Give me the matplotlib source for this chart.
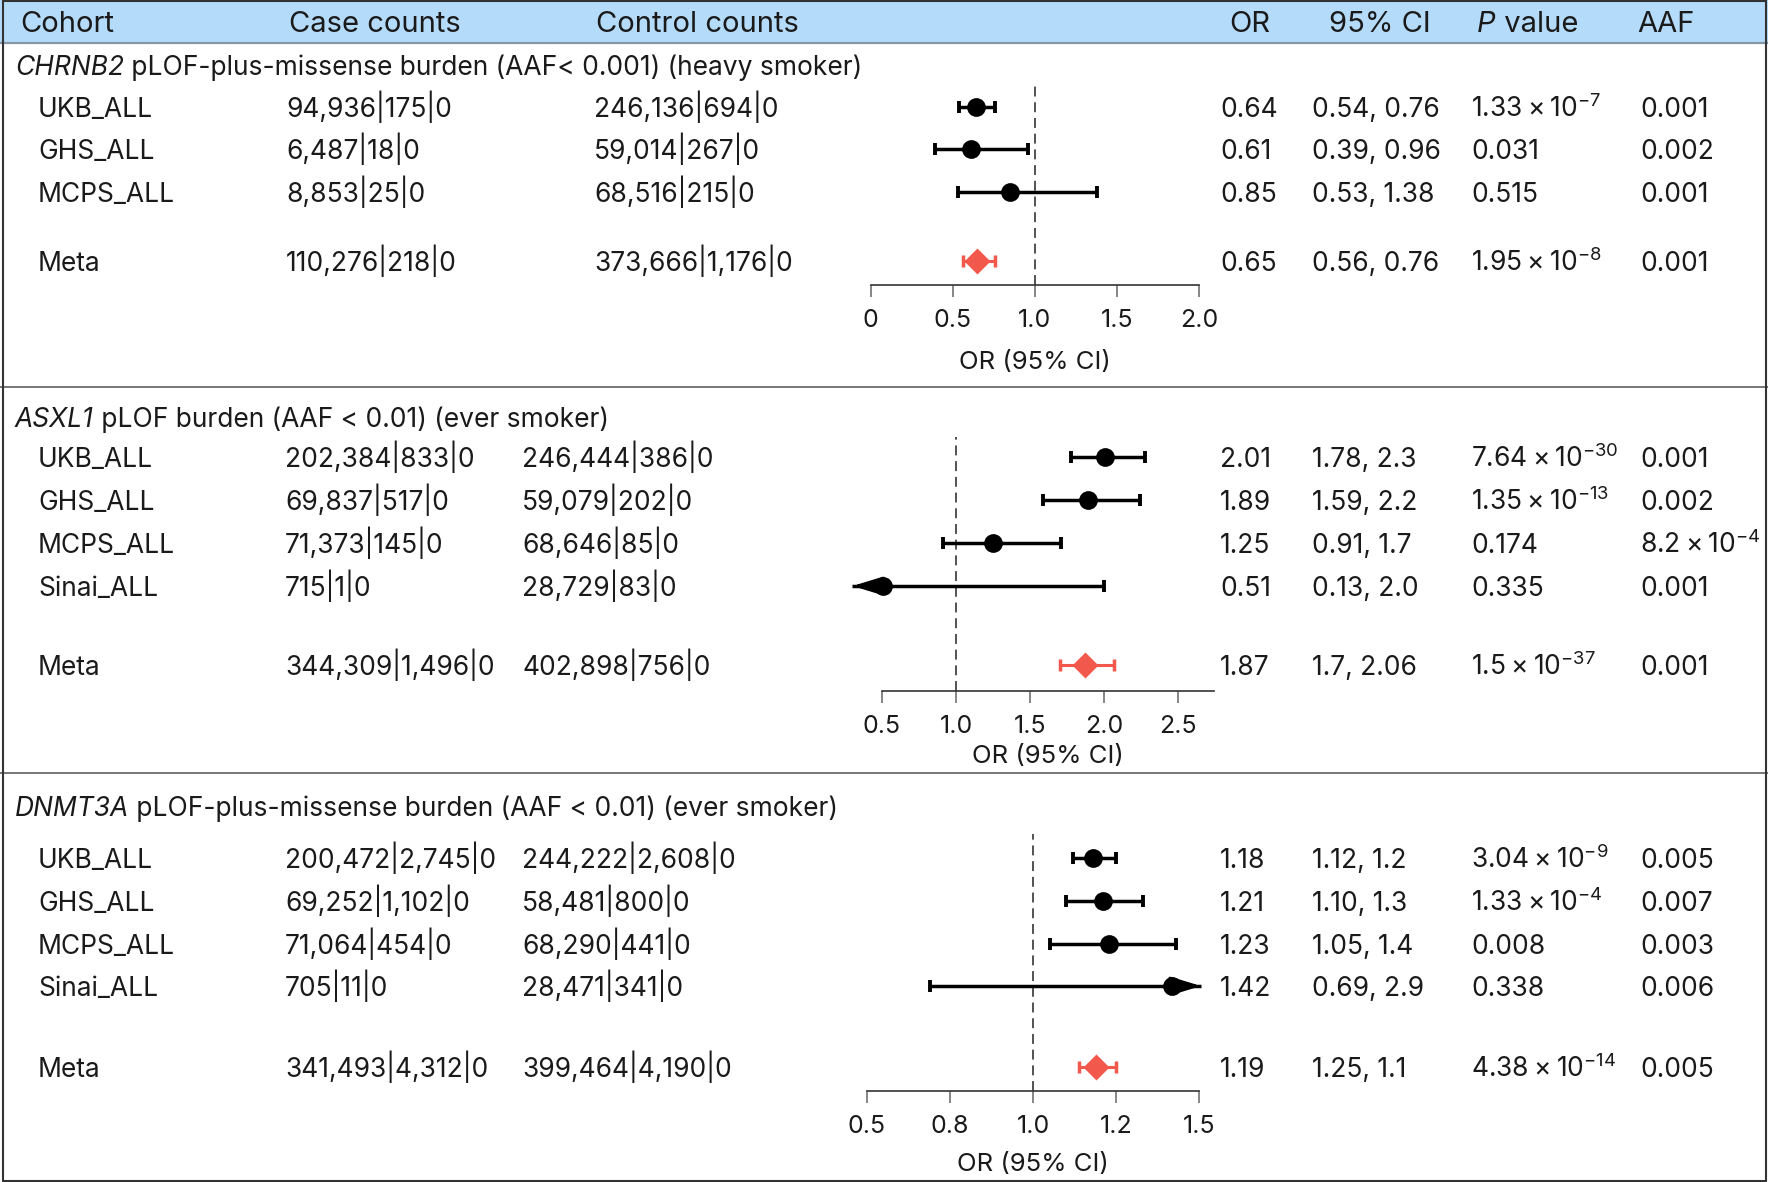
import matplotlib
matplotlib.use('Agg')
import matplotlib.pyplot as plt
from matplotlib.patches import Rectangle
from matplotlib.transforms import blended_transform_factory

plt.rcParams['font.family'] = ['Inter', 'DejaVu Sans']
plt.rcParams['mathtext.fontset'] = 'custom'
plt.rcParams['mathtext.rm'] = 'Inter'

W, H = 1768, 1182
FS = 19
FS_HEAD = 21
FS_TICK = 18
FS_XL = 18.5
TXT = '#1a1a1a'
RED = '#f2584c'

# ---- data ----
header = ['Cohort', 'Case counts', 'Control counts', 'OR', '95% CI', 'P', 'AAF']

genes = ['CHRNB2', 'ASXL1', 'DNMT3A']
title_rest = [' pLOF-plus-missense burden (AAF< 0.001) (heavy smoker)',
              ' pLOF burden (AAF < 0.01) (ever smoker)',
              ' pLOF-plus-missense burden (AAF < 0.01) (ever smoker)']

cohorts1 = ['UKB_ALL', 'GHS_ALL', 'MCPS_ALL', 'Meta']
cases1 = ['94,936|175|0', '6,487|18|0', '8,853|25|0', '110,276|218|0']
controls1 = ['246,136|694|0', '59,014|267|0', '68,516|215|0', '373,666|1,176|0']
or1 = [0.64, 0.61, 0.85, 0.65]
lo1 = [0.54, 0.39, 0.53, 0.56]
hi1 = [0.76, 0.96, 1.38, 0.76]
ci1 = ['0.54, 0.76', '0.39, 0.96', '0.53, 1.38', '0.56, 0.76']
p1 = [r'$\mathregular{1.33\times10^{-7}}$', '0.031', '0.515', r'$\mathregular{1.95\times10^{-8}}$']
aaf1 = ['0.001', '0.002', '0.001', '0.001']

cohorts2 = ['UKB_ALL', 'GHS_ALL', 'MCPS_ALL', 'Sinai_ALL', 'Meta']
cases2 = ['202,384|833|0', '69,837|517|0', '71,373|145|0', '715|1|0', '344,309|1,496|0']
controls2 = ['246,444|386|0', '59,079|202|0', '68,646|85|0', '28,729|83|0', '402,898|756|0']
or2 = [2.01, 1.89, 1.25, 0.51, 1.87]
lo2 = [1.78, 1.59, 0.91, 0.13, 1.70]
hi2 = [2.28, 2.24, 1.71, 2.00, 2.07]
ci2 = ['1.78, 2.3', '1.59, 2.2', '0.91, 1.7', '0.13, 2.0', '1.7, 2.06']
p2 = [r'$\mathregular{7.64\times10^{-30}}$', r'$\mathregular{1.35\times10^{-13}}$', '0.174', '0.335',
      r'$\mathregular{1.5\times10^{-37}}$']
aaf2 = ['0.001', '0.002', r'$\mathregular{8.2\times10^{-4}}$', '0.001', '0.001']

cohorts3 = ['UKB_ALL', 'GHS_ALL', 'MCPS_ALL', 'Sinai_ALL', 'Meta']
cases3 = ['200,472|2,745|0', '69,252|1,102|0', '71,064|454|0', '705|11|0', '341,493|4,312|0']
controls3 = ['244,222|2,608|0', '58,481|800|0', '68,290|441|0', '28,471|341|0', '399,464|4,190|0']
or3 = [1.18, 1.21, 1.23, 1.42, 1.19]
lo3 = [1.12, 1.10, 1.05, 0.69, 1.14]
hi3 = [1.25, 1.33, 1.43, 2.90, 1.25]
ci3 = ['1.12, 1.2', '1.10, 1.3', '1.05, 1.4', '0.69, 2.9', '1.25, 1.1']
p3 = [r'$\mathregular{3.04\times10^{-9}}$', r'$\mathregular{1.33\times10^{-4}}$', '0.008', '0.338',
      r'$\mathregular{4.38\times10^{-14}}$']
aaf3 = ['0.005', '0.007', '0.003', '0.006', '0.005']

ticks1, ticklabels1 = [0, 0.5, 1.0, 1.5, 2.0], ['0', '0.5', '1.0', '1.5', '2.0']
ticks2, ticklabels2 = [0.5, 1.0, 1.5, 2.0, 2.5], ['0.5', '1.0', '1.5', '2.0', '2.5']
ticks3, ticklabels3 = [0.5, 0.75, 1.0, 1.25, 1.5], ['0.5', '0.8', '1.0', '1.2', '1.5']

# ---- layout (pixels, y downward) ----
panels = [
    dict(cohorts=cohorts1, cases=cases1, controls=controls1, orv=or1, lo=lo1, hi=hi1,
         ci=ci1, p=p1, aaf=aaf1, ticks=ticks1, tlabels=ticklabels1,
         title_y=65, rows=[107, 149, 192, 261], dash_top=82, axis_y=285,
         ref=(0.0, 870.8), ppu=164, view=(0.0, 2.0), spine=(0.0, 2.0), xlabel_y=362,
         case_x=286, ctrl_x=594),
    dict(cohorts=cohorts2, cases=cases2, controls=controls2, orv=or2, lo=lo2, hi=hi2,
         ci=ci2, p=p2, aaf=aaf2, ticks=ticks2, tlabels=ticklabels2,
         title_y=417, rows=[457, 500, 543, 586, 665], dash_top=437, axis_y=691,
         ref=(0.5, 882), ppu=148, view=(0.30, 2.75), spine=(0.5, 2.74), xlabel_y=757,
         case_x=285, ctrl_x=522),
    dict(cohorts=cohorts3, cases=cases3, controls=controls3, orv=or3, lo=lo3, hi=hi3,
         ci=ci3, p=p3, aaf=aaf3, ticks=ticks3, tlabels=ticklabels3,
         title_y=806, rows=[858, 901, 944, 986, 1067], dash_top=834, axis_y=1091,
         ref=(0.5, 867), ppu=332, view=(0.5, 1.506), spine=(0.5, 1.5), xlabel_y=1164,
         case_x=285, ctrl_x=522),
]
col_x = [20, 289, 596, 1229, 1329, 1477, 1637]
val_x = dict(cohort=38, orv=1220, ci=1312, p=1471, aaf=1640)
BL = 10  # baseline offset from visual row centre

fig = plt.figure(figsize=(W / 100, H / 100), dpi=100)
cv = fig.add_axes([0, 0, 1, 1])
cv.set_xlim(0, W)
cv.set_ylim(H, 0)
cv.axis('off')


def italic_then(x, y, ital, rest, size):
    t = cv.text(x, y, ital, fontsize=size, color=TXT, style='italic', va='baseline')
    cv.annotate(rest, xy=(1, 0), xycoords=t, fontsize=size, color=TXT, ha='left', va='bottom')


# header band and frame
cv.add_patch(Rectangle((0, 0), W, 43, facecolor='#b5dbfa', edgecolor='none', zorder=0))
cv.plot([0, W], [43, 43], color='#8796a3', lw=1.6)
for yy in [387, 773]:
    cv.plot([0, W], [yy, yy], color='#777777', lw=1.4)
cv.add_patch(Rectangle((2.5, 1), W - 5, H - 2, facecolor='none', edgecolor='#333333', lw=1.5, zorder=5))

for x, lab in zip(col_x, header):
    if lab == 'P':
        italic_then(x, 32, 'P', ' value', FS_HEAD)
    else:
        cv.text(x, 32, lab, fontsize=FS_HEAD, color=TXT, ha='left', va='baseline')

for k, pn in enumerate(panels):
    italic_then(15, pn['title_y'] + BL, genes[k], title_rest[k], FS)
    for i, y in enumerate(pn['rows']):
        yb = y + BL
        cv.text(val_x['cohort'], yb, pn['cohorts'][i], fontsize=FS, color=TXT, va='baseline')
        cv.text(pn['case_x'], yb, pn['cases'][i], fontsize=FS, color=TXT, va='baseline')
        cv.text(pn['ctrl_x'], yb, pn['controls'][i], fontsize=FS, color=TXT, va='baseline')
        cv.text(val_x['orv'], yb, f"{pn['orv'][i]:.2f}", fontsize=FS, color=TXT, va='baseline')
        cv.text(val_x['ci'], yb, pn['ci'][i], fontsize=FS, color=TXT, va='baseline')
        cv.text(val_x['p'], yb, pn['p'][i], fontsize=FS, color=TXT, va='baseline')
        cv.text(val_x['aaf'], yb, pn['aaf'][i], fontsize=FS, color=TXT, va='baseline')

    # forest axes placed so that one OR unit spans ppu pixels
    v0, v1 = pn['view']
    r_val, r_px = pn['ref']
    left_px = r_px + (v0 - r_val) * pn['ppu']
    width_px = (v1 - v0) * pn['ppu']
    ax = fig.add_axes([left_px / W, 1 - pn['axis_y'] / H, width_px / W,
                       (pn['axis_y'] - pn['dash_top']) / H])
    ax.set_facecolor('none')
    ax.set_xlim(v0, v1)
    ax.set_ylim(pn['axis_y'], pn['dash_top'])
    for s in ['top', 'left', 'right']:
        ax.spines[s].set_visible(False)
    ax.spines['bottom'].set_bounds(*pn['spine'])
    ax.spines['bottom'].set_color('#333333')
    ax.spines['bottom'].set_linewidth(1.2)
    ax.set_yticks([])
    ax.set_xticks(pn['ticks'])
    ax.set_xticklabels(pn['tlabels'])
    ax.tick_params(axis='x', length=8.5, width=1.1, color='#666666', pad=9,
                   labelsize=FS_TICK, labelcolor=TXT)
    ax.axvline(1.0, color='#444444', lw=1.3, ls=(0, (5.5, 3.2)), zorder=1)
    ax.set_xlabel('OR (95% CI)', fontsize=FS_XL, color=TXT)
    ax.xaxis.set_label_coords(sum(pn['spine']) / 2, pn['xlabel_y'],
                              transform=blended_transform_factory(ax.transData, cv.transData))
    ax.xaxis.label.set_va('center')

    n = len(pn['rows'])
    for i, y in enumerate(pn['rows']):
        meta = i == n - 1
        col = RED if meta else 'black'
        lw = 2.2 if meta else 2.5
        lo, hi, o = pn['lo'][i], pn['hi'][i], pn['orv'][i]
        lo_d, hi_d = max(lo, v0), min(hi, v1)
        ax.plot([lo_d, hi_d], [y, y], color=col, lw=lw, solid_capstyle='butt', clip_on=False, zorder=2)
        for draw, clipped in [(lo_d, lo < v0), (hi_d, hi > v1)]:
            if clipped:
                ax.annotate('', xy=(draw, y), xytext=(o, y), annotation_clip=False,
                            arrowprops=dict(arrowstyle='-|>,head_length=1.8,head_width=0.55',
                                            color=col, lw=lw, shrinkA=0, shrinkB=0))
            else:
                ax.plot([draw], [y], marker='|', ms=8, mew=lw + 0.3, color=col, clip_on=False, zorder=2)
        if meta:
            ax.plot([o], [y], marker='D', ms=13.5, color=col, mec='none', clip_on=False, zorder=3)
        else:
            ax.plot([o], [y], marker='o', ms=13.5, color='black', mec='none', clip_on=False, zorder=3)

fig.savefig('out.png', dpi=100)
